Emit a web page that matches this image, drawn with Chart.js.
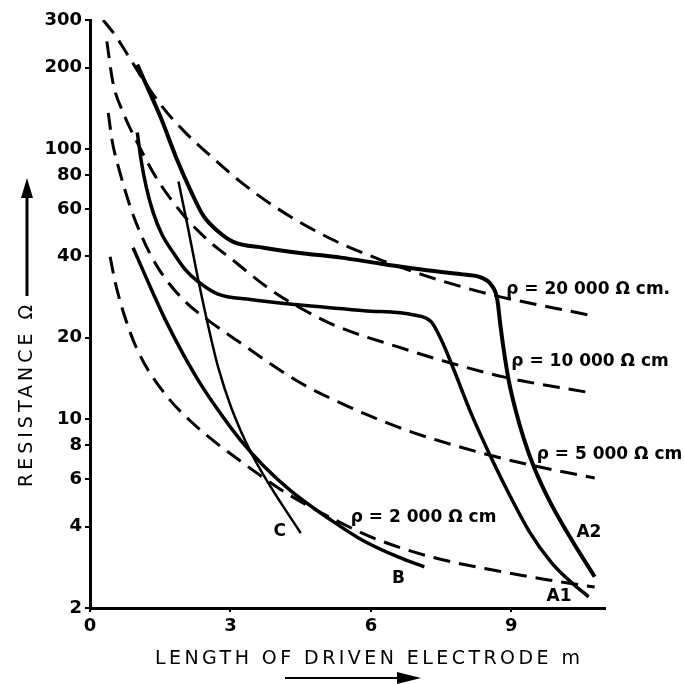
<!DOCTYPE html>
<html>
<head>
<meta charset="utf-8">
<script src="https://cdn.jsdelivr.net/npm/chart.js@4.4.1/dist/chart.umd.min.js"></script>
<style>
  html, body { margin: 0; padding: 0; background: #fff; }
  #wrap { width: 684px; height: 684px; }
</style>
</head>
<body>
<div id="wrap"><canvas id="myChart" width="684" height="684"></canvas></div>
<script>
// dashed curves: calculated resistance for given soil resistivity
const rho20000X = [0.28, 0.54, 0.79, 1.07, 1.35, 1.65, 2.08, 2.64, 3.21, 4.01, 5.14, 6.15, 7.29, 8.57, 10.65];
const rho20000Y = [300, 263, 225, 188, 159, 136, 113, 92, 75.7, 60.1, 46.5, 39.2, 33.4, 28.9, 24.3];
const rho10000X = [0.36, 0.49, 0.71, 1.01, 1.44, 1.99, 2.51, 3.04, 3.86, 4.56, 5.29, 6.58, 7.56, 8.85, 10.71];
const rho10000Y = [250, 176, 136, 105.5, 77, 57.1, 46.1, 38.9, 30.1, 25.4, 22.0, 18.5, 16.4, 14.3, 12.5];
const rho5000X = [0.39, 0.47, 0.64, 0.86, 1.11, 1.44, 1.99, 2.57, 3.15, 3.86, 4.5, 5.29, 5.85, 6.92, 8.51, 9.58, 10.78];
const rho5000Y = [136, 108, 81.7, 61.1, 47.3, 36.6, 27.7, 22.9, 19.5, 16.0, 13.6, 11.6, 10.5, 8.9, 7.38, 6.66, 6.06];
const rho2000X = [0.43, 0.54, 0.86, 1.14, 1.65, 2.14, 2.64, 3.21, 3.71, 4.29, 5.36, 6.06, 7.29, 8.72, 9.79, 10.78];
const rho2000Y = [39.9, 32, 20.9, 16.3, 12.1, 9.86, 8.31, 7.0, 6.06, 5.2, 4.13, 3.63, 3.09, 2.74, 2.54, 2.39];

// solid curves: measured electrodes
const a2X = [1.01, 1.22, 1.5, 1.86, 2.14, 2.42, 2.72, 3.06, 3.71, 4.44, 5.36, 6.21, 7.29, 8.04, 8.36, 8.57, 8.7, 8.76, 8.83, 8.94, 9.09, 9.26, 9.49, 9.84, 10.29, 10.78];
const a2Y = [205, 170, 132, 91.2, 70.7, 56.6, 49.8, 45.3, 43.1, 41.3, 39.6, 37.6, 35.4, 34.2, 33.4, 31.4, 27.7, 22.7, 18.4, 14.0, 10.8, 8.53, 6.6, 4.89, 3.57, 2.61];
const a1X = [1.01, 1.09, 1.2, 1.35, 1.54, 1.78, 2.04, 2.29, 2.72, 3.43, 4.44, 5.85, 6.92, 7.29, 7.5, 7.71, 8.14, 8.61, 8.94, 9.39, 9.86, 10.29, 10.65];
const a1Y = [115, 91.2, 72.5, 58.1, 48.1, 41.3, 35.7, 32.5, 29.1, 27.7, 26.5, 25.2, 24.3, 22.9, 19.7, 16.2, 10.5, 6.95, 5.33, 3.82, 2.94, 2.48, 2.2];
const bX = [0.92, 1.24, 1.61, 1.99, 2.36, 2.72, 3.21, 3.71, 4.29, 5.14, 5.85, 6.58, 7.14];
const bY = [43.1, 32.2, 23.3, 17.4, 13.5, 10.9, 8.38, 6.71, 5.43, 4.24, 3.54, 3.09, 2.84];
const cX = [1.89, 2.08, 2.29, 2.51, 2.74, 3.02, 3.43, 3.86, 4.5];
const cY = [75.7, 52.4, 34.2, 22.7, 15.5, 11.0, 7.57, 5.61, 3.79];

const lengthTicks = [0, 3, 6, 9];
const resistanceTicks = [2, 4, 6, 8, 10, 20, 40, 60, 80, 100, 200, 300];

// curve labels, anchored in data units (left edge, middle)
const labelText = ['ρ = 20 000 Ω cm.', 'ρ = 10 000 Ω cm', 'ρ = 5 000 Ω cm', 'ρ = 2 000 Ω cm', 'A2', 'A1', 'B', 'C'];
const labelX = [8.89, 9.0, 9.54, 5.57, 10.39, 9.75, 6.45, 3.92];
const labelY = [30.1, 16.3, 7.38, 4.31, 3.79, 2.2, 2.58, 3.82];

function pts(xs, ys) {
    return xs.map((x, i) => ({ x: x, y: ys[i] }));
}

function dashed(label, xs, ys) {
    return {
        label: label, data: pts(xs, ys),
        borderColor: '#000', borderWidth: 3, borderDash: [17, 9],
        pointRadius: 0, cubicInterpolationMode: 'monotone', fill: false
    };
}

function solid(label, xs, ys, w) {
    return {
        label: label, data: pts(xs, ys),
        borderColor: '#000', borderWidth: w,
        pointRadius: 0, cubicInterpolationMode: 'monotone', fill: false
    };
}

// letter-spaced text stretched over a given width
function spacedText(ctx, text, x, y, width) {
    ctx.letterSpacing = '0px';
    const w = ctx.measureText(text).width;
    const sp = (width - w) / (text.length - 1);
    ctx.letterSpacing = sp + 'px';
    ctx.textAlign = 'left';
    ctx.fillText(text, x, y);
    ctx.letterSpacing = '0px';
}

const decorations = {
    id: 'decorations',
    afterDatasetsDraw(chart) {
        const ctx = chart.ctx;
        const xs = chart.scales.x, ys = chart.scales.y;
        ctx.save();
        ctx.fillStyle = '#000';
        ctx.strokeStyle = '#000';

        // curve labels
        ctx.font = 'bold 17px "DejaVu Sans"';
        ctx.textBaseline = 'middle';
        ctx.textAlign = 'left';
        labelText.forEach((t, i) => {
            ctx.fillText(t, xs.getPixelForValue(labelX[i]), ys.getPixelForValue(labelY[i]));
        });

        // y axis title + arrow
        ctx.save();
        ctx.translate(27, 396);
        ctx.rotate(-Math.PI / 2);
        ctx.font = '19px "DejaVu Sans"';
        spacedText(ctx, 'RESISTANCE Ω', -91, 0, 182);
        ctx.restore();
        ctx.lineWidth = 3;
        ctx.beginPath();
        ctx.moveTo(27, 296);
        ctx.lineTo(27, 194);
        ctx.stroke();
        ctx.beginPath();
        ctx.moveTo(27, 178);
        ctx.lineTo(21, 198);
        ctx.lineTo(33, 198);
        ctx.closePath();
        ctx.fill();

        // x axis title + arrow
        ctx.font = '19px "DejaVu Sans"';
        ctx.textBaseline = 'middle';
        spacedText(ctx, 'LENGTH OF DRIVEN ELECTRODE m', 155, 659, 425);
        ctx.lineWidth = 2;
        ctx.beginPath();
        ctx.moveTo(285, 678);
        ctx.lineTo(400, 678);
        ctx.stroke();
        ctx.beginPath();
        ctx.moveTo(421, 678);
        ctx.lineTo(397, 672);
        ctx.lineTo(397, 684);
        ctx.closePath();
        ctx.fill();
        ctx.restore();
    }
};

const ctx = document.getElementById('myChart').getContext('2d');
const myChart = new Chart(ctx, {
    type: 'line',
    data: {
        datasets: [
            dashed('ρ = 20 000 Ω cm', rho20000X, rho20000Y),
            dashed('ρ = 10 000 Ω cm', rho10000X, rho10000Y),
            dashed('ρ = 5 000 Ω cm', rho5000X, rho5000Y),
            dashed('ρ = 2 000 Ω cm', rho2000X, rho2000Y),
            solid('A2', a2X, a2Y, 4),
            solid('A1', a1X, a1Y, 3.5),
            solid('B', bX, bY, 3.5),
            solid('C', cX, cY, 2.5)
        ]
    },
    options: {
        responsive: false,
        animation: false,
        layout: { padding: { top: 20, right: 79, left: 0, bottom: 0 } },
        plugins: { legend: { display: false }, tooltip: { enabled: false } },
        scales: {
            x: {
                type: 'linear', min: 0, max: 11,
                afterBuildTicks: s => { s.ticks = lengthTicks.map(v => ({ value: v })); },
                afterFit: s => { s.height = 76; },
                grid: { drawOnChartArea: false, tickLength: 4, color: '#000', lineWidth: 2 },
                border: { color: '#000', width: 3 },
                ticks: {
                    color: '#000', padding: 4, maxRotation: 0, autoSkip: false,
                    font: { family: 'DejaVu Sans', weight: 'bold', size: 18 }
                }
            },
            y: {
                type: 'logarithmic', min: 2, max: 300,
                afterBuildTicks: s => { s.ticks = resistanceTicks.map(v => ({ value: v })); },
                afterFit: s => { s.width = 90; },
                grid: { drawOnChartArea: false, tickLength: 5, color: '#000', lineWidth: 2 },
                border: { color: '#000', width: 3 },
                ticks: {
                    color: '#000', padding: 3, autoSkip: false,
                    callback: v => String(v),
                    font: { family: 'DejaVu Sans', weight: 'bold', size: 18 }
                }
            }
        }
    },
    plugins: [decorations]
});
</script>
</body>
</html>
